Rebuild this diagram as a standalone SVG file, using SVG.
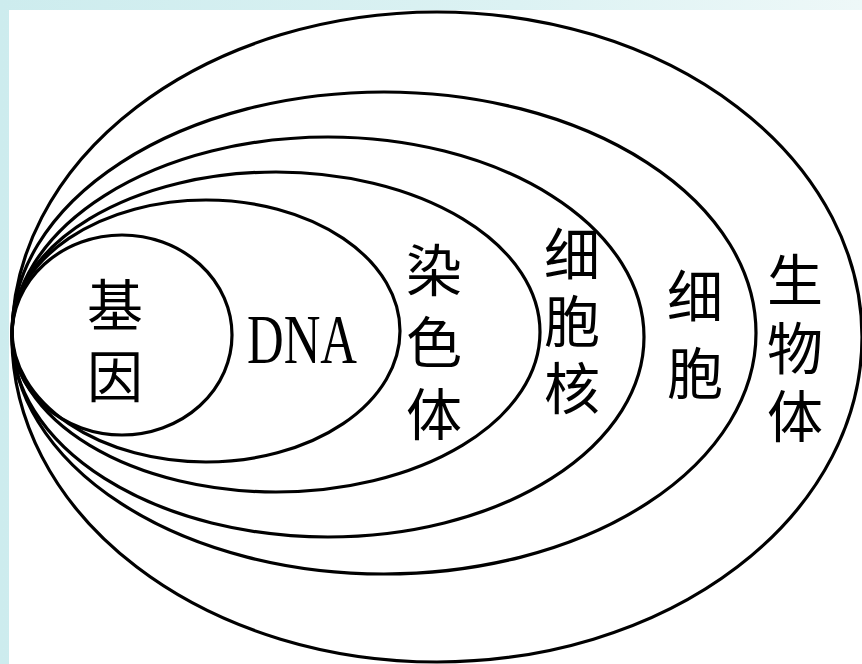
<svg xmlns="http://www.w3.org/2000/svg" width="862" height="664" viewBox="0 0 862 664">
  <defs>
    <linearGradient id="bg" x1="0" y1="0" x2="1" y2="0">
      <stop offset="0" stop-color="#cdecee"/>
      <stop offset="0.6" stop-color="#dcf2f3"/>
      <stop offset="1" stop-color="#eef8f8"/>
    </linearGradient>
    <style>
      .ring { fill: none; stroke: #000; stroke-width: 3.2; }
      .cjk { font-family: "Noto Sans CJK SC", "Noto Sans", sans-serif; font-size: 56px; fill: #000; writing-mode: vertical-rl; text-orientation: upright; }
      .lat { font-family: "Liberation Serif", "DejaVu Serif", serif; font-size: 70px; fill: #000; }
    </style>
  </defs>
  <rect x="0" y="0" width="862" height="664" fill="url(#bg)"/>
  <rect x="9" y="10" width="853" height="654" fill="#ffffff"/>

  <g id="organism">
    <ellipse class="ring" cx="437" cy="337" rx="425" ry="325"/>
    <text class="cjk" x="795" y="252" letter-spacing="12">生物体</text>
  </g>
  <g id="cell">
    <ellipse class="ring" cx="384" cy="333" rx="372" ry="241"/>
    <text class="cjk" x="695" y="268" letter-spacing="21">细胞</text>
  </g>
  <g id="nucleus">
    <ellipse class="ring" cx="328" cy="337" rx="316" ry="200"/>
    <text class="cjk" x="572" y="226" letter-spacing="11">细胞核</text>
  </g>
  <g id="chromosome">
    <ellipse class="ring" cx="276" cy="332" rx="264" ry="160"/>
    <text class="cjk" x="434" y="242" letter-spacing="16">染色体</text>
  </g>
  <g id="dna">
    <ellipse class="ring" cx="206" cy="331" rx="194" ry="131"/>
    <text class="lat" x="247" y="363" textLength="110" lengthAdjust="spacingAndGlyphs">DNA</text>
  </g>
  <g id="gene">
    <ellipse class="ring" cx="122" cy="335" rx="110" ry="100"/>
    <text class="cjk" x="115" y="277" letter-spacing="15">基因</text>
  </g>
  <g id="connectors"/>
</svg>
